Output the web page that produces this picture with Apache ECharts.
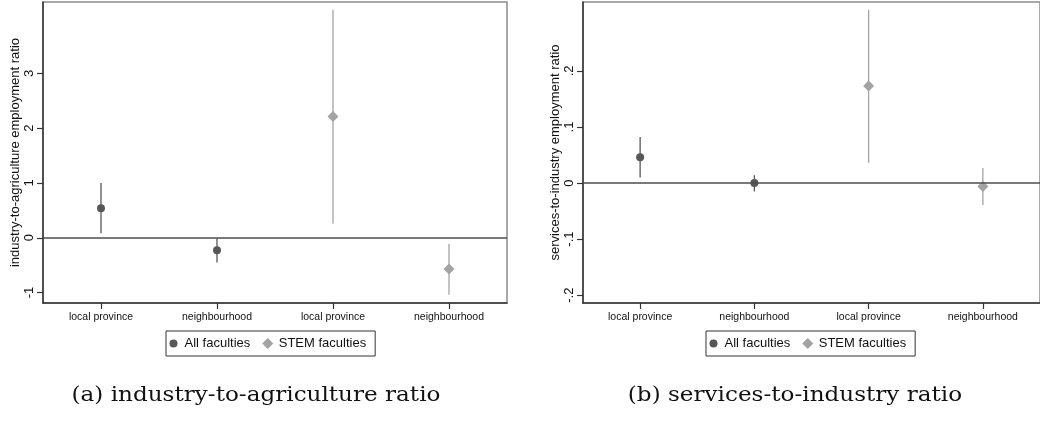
<!DOCTYPE html>
<html>
<head>
<meta charset="utf-8">
<script src="https://cdn.jsdelivr.net/npm/echarts@6/dist/echarts.min.js"></script>
<style>
html,body{margin:0;padding:0;background:#fff;}
#chart{width:1040px;height:423px;}
</style>
</head>
<body>
<div id="chart"></div>
<script>
// ---- data ----
const categories = ['local province', 'neighbourhood', 'local province', 'neighbourhood'];
const allPos = [0, 1];
const stemPos = [2, 3];

// (a) industry-to-agriculture
const aAllEst = [0.54, -0.23];
const aAllLo = [0.08, -0.45];
const aAllHi = [1.00, -0.01];
const aStemEst = [2.21, -0.57];
const aStemLo = [0.26, -1.04];
const aStemHi = [4.16, -0.115];
const aTicks = [-1, 0, 1, 2, 3];

// (b) services-to-industry
const bAllEst = [0.046, 0.000];
const bAllLo = [0.010, -0.015];
const bAllHi = [0.082, 0.014];
const bStemEst = [0.173, -0.006];
const bStemLo = [0.036, -0.039];
const bStemHi = [0.309, 0.027];
const bTicks = [-0.2, -0.1, 0, 0.1, 0.2];
const bTickLabels = ['-.2', '-.1', '0', '.1', '.2'];

const seriesNames = ['All faculties', 'STEM faculties'];
const yTitles = ['industry-to-agriculture employment ratio', 'services-to-industry employment ratio'];
const captions = ['(a) industry-to-agriculture ratio', '(b) services-to-industry ratio'];

// ---- styles ----
const DARK = '#575757';
const LIGHT = '#a3a3a3';
const SANS = 'Liberation Sans, Arial, sans-serif';

function pts(pos, est) { return pos.map((p, i) => [p, est[i]]); }
function bars(pos, lo, hi) { return pos.map((p, i) => [p, lo[i], hi[i]]); }

function errSeries(gi, data, color) {
  return {
    type: 'custom', xAxisIndex: gi, yAxisIndex: gi, z: 3, silent: true,
    encode: { x: 0, y: [1, 2] },
    data: data,
    renderItem: function (params, api) {
      const x = api.value(0);
      const a = api.coord([x, api.value(1)]);
      const b = api.coord([x, api.value(2)]);
      return { type: 'line', shape: { x1: a[0], y1: a[1], x2: b[0], y2: b[1] },
        style: { stroke: color, lineWidth: 1.3 } };
    }
  };
}

function ptSeries(gi, name, data, color, symbol, size) {
  return {
    type: 'scatter', name: name, xAxisIndex: gi, yAxisIndex: gi, z: 4,
    symbol: symbol, symbolSize: size, data: data,
    itemStyle: { color: color, opacity: 1 }, silent: true
  };
}

function zeroLine(gi) {
  return {
    type: 'line', xAxisIndex: gi, yAxisIndex: gi, data: [], z: 2, silent: true,
    markLine: { silent: true, symbol: 'none', label: { show: false },
      lineStyle: { color: '#4d4d4d', width: 1.5, type: 'solid' },
      data: [{ yAxis: 0 }] }
  };
}

function xAxis(gi) {
  return {
    type: 'category', gridIndex: gi, data: categories, boundaryGap: true,
    axisLine: { show: true, onZero: false, lineStyle: { color: '#333', width: 1.5 } },
    axisTick: { show: true, alignWithLabel: true, length: 6, lineStyle: { color: '#333', width: 1.2 } },
    axisLabel: { color: '#111', fontFamily: SANS, fontSize: 10.5, margin: 9, interval: 0 },
    splitLine: { show: false }
  };
}

function yAxis(gi, min, max, ticks, fmt) {
  return {
    type: 'value', gridIndex: gi, min: min, max: max,
    name: yTitles[gi], nameLocation: 'middle', nameGap: 19,
    nameTextStyle: { color: '#111', fontFamily: SANS, fontSize: 13 },
    axisLine: { show: true, onZero: false, lineStyle: { color: '#333', width: 1.5 } },
    axisTick: { show: true, length: 6, customValues: ticks, lineStyle: { color: '#333', width: 1.2 } },
    axisLabel: { show: true, customValues: ticks, rotate: 90, margin: 7, color: '#111',
      fontFamily: SANS, fontSize: 13, formatter: fmt, showMinLabel: true, showMaxLabel: true },
    splitLine: { show: false }
  };
}

const gridStyle = { show: true, borderColor: '#8c8c8c', borderWidth: 1.5, backgroundColor: 'transparent' };

// legend icons: small circle padded inside an 11x11 box, full-size diamond
const ICON_CIRCLE = 'path://M0,0M11,11M1.5,5.5A4,4,0,1,1,9.5,5.5A4,4,0,1,1,1.5,5.5Z';
const ICON_DIAMOND = 'path://M0,5.5L5.5,0L11,5.5L5.5,11Z';

function legend(left) {
  return {
    left: left, top: 331, orient: 'horizontal', selectedMode: false,
    borderColor: '#333', borderWidth: 1, padding: [6, 9, 6, 2],
    itemWidth: 12, itemHeight: 11, itemGap: 12,
    textStyle: { color: '#111', fontFamily: SANS, fontSize: 13 },
    data: [{ name: seriesNames[0], icon: ICON_CIRCLE },
           { name: seriesNames[1], icon: ICON_DIAMOND }]
  };
}

const captionFont = '21px "DejaVu Serif"';

const option = {
  animation: false,
  backgroundColor: '#fff',
  grid: [
    Object.assign({ left: 43, top: 2, right: 533, bottom: 120 }, gridStyle),
    Object.assign({ left: 583, top: 2, right: -7, bottom: 120 }, gridStyle)
  ],
  xAxis: [xAxis(0), xAxis(1)],
  yAxis: [
    yAxis(0, -1.19, 4.30, aTicks, v => String(v)),
    yAxis(1, -0.214, 0.323, bTicks, v => {
      const i = bTicks.findIndex(t => Math.abs(t - v) < 1e-9);
      return i >= 0 ? bTickLabels[i] : '';
    })
  ],
  legend: [legend(166), legend(706)],
  series: [
    zeroLine(0),
    errSeries(0, bars(allPos, aAllLo, aAllHi), DARK),
    errSeries(0, bars(stemPos, aStemLo, aStemHi), LIGHT),
    ptSeries(0, seriesNames[0], pts(allPos, aAllEst), DARK, 'circle', 8),
    ptSeries(0, seriesNames[1], pts(stemPos, aStemEst), LIGHT, 'diamond', 11),
    zeroLine(1),
    errSeries(1, bars(allPos, bAllLo, bAllHi), DARK),
    errSeries(1, bars(stemPos, bStemLo, bStemHi), LIGHT),
    ptSeries(1, seriesNames[0], pts(allPos, bAllEst), DARK, 'circle', 8),
    ptSeries(1, seriesNames[1], pts(stemPos, bStemEst), LIGHT, 'diamond', 11)
  ],
  graphic: [
    { type: 'text', x: 256, y: 396, scaleX: 1.1, style: { text: captions[0], font: captionFont, fill: '#111', textAlign: 'center', textVerticalAlign: 'middle' } },
    { type: 'text', x: 795, y: 396, scaleX: 1.1, style: { text: captions[1], font: captionFont, fill: '#111', textAlign: 'center', textVerticalAlign: 'middle' } }
  ]
};

const chart = echarts.init(document.getElementById('chart'), null, { renderer: 'canvas' });
chart.setOption(option);
</script>
</body>
</html>
